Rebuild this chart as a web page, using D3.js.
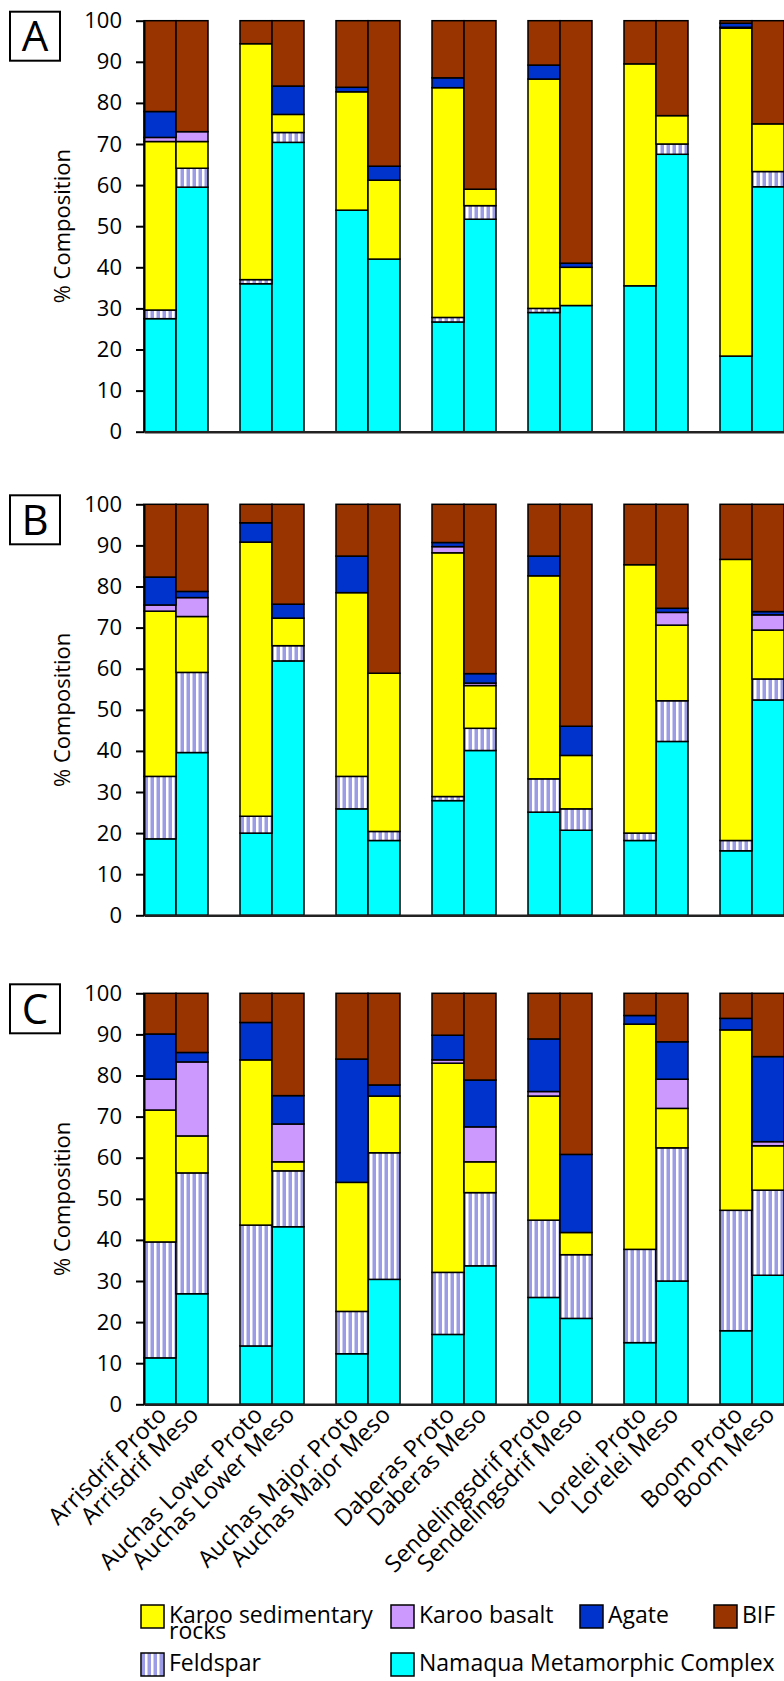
<!DOCTYPE html>
<html>
<head>
<meta charset="utf-8">
<script src="https://cdn.jsdelivr.net/npm/d3@7"></script>
<style>
  body { margin: 0; background: #fff; }
  svg { display: block; }
</style>
</head>
<body>
<script>
/*
  stacked composition bars, three panels (A, B, C)
  order of values in each array: site Proto, site Meso, ...
*/

var sites = ["Arrisdrif", "Auchas Lower", "Auchas Major", "Daberas", "Sendelingsdrif", "Lorelei", "Boom"];
var periods = ["Proto", "Meso"];
var keys = ["namaqua", "feldspar", "karoo", "basalt", "agate", "bif"];
var yTicks = [0, 10, 20, 30, 40, 50, 60, 70, 80, 90, 100];
var panelNames = ["A", "B", "C"];

// panel A
var namaquaA  = [27.5, 59.5, 36.0, 70.4, 53.9, 42.0, 26.7, 51.7, 29.0, 30.7, 35.5, 67.5, 18.4, 59.6];
var feldsparA = [2.1, 4.6, 1.0, 2.4, 0, 0, 1.1, 3.3, 1.0, 0, 0, 2.5, 0, 3.7];
var karooA    = [41.0, 6.5, 57.4, 4.4, 28.8, 19.2, 55.9, 4.0, 55.8, 9.3, 54.0, 6.9, 79.8, 11.6];
var basaltA   = [1.0, 2.4, 0, 0, 0, 0, 0, 0, 0, 0, 0, 0, 0.2, 0];
var agateA    = [6.3, 0, 0, 6.9, 1.1, 3.4, 2.4, 0, 3.4, 1.0, 0, 0, 1.0, 0];
var bifA      = [22.1, 27.0, 5.6, 15.9, 16.2, 35.4, 13.9, 41.0, 10.8, 59.0, 10.5, 23.1, 0.6, 25.1];

// panel B
var namaquaB  = [18.6, 39.6, 20.0, 61.9, 25.9, 18.2, 27.9, 40.1, 25.1, 20.7, 18.2, 42.3, 15.7, 52.4];
var feldsparB = [15.2, 19.5, 4.1, 3.7, 7.9, 2.2, 1.0, 5.4, 8.1, 5.2, 1.8, 9.9, 2.5, 5.1];
var karooB    = [40.2, 13.6, 66.7, 6.7, 44.7, 38.5, 59.3, 10.4, 49.4, 13.0, 65.3, 18.4, 68.4, 11.9];
var basaltB   = [1.5, 4.6, 0, 0, 0, 0, 1.5, 0.6, 0, 0, 0, 3.1, 0, 3.7];
var agateB    = [6.8, 1.5, 4.7, 3.4, 8.9, 0, 1.0, 2.3, 4.8, 7.1, 0, 1.0, 0, 0.8];
var bifB      = [17.7, 21.2, 4.5, 24.3, 12.6, 41.1, 9.3, 41.2, 12.6, 54.0, 14.7, 25.3, 13.4, 26.1];

// panel C
var namaquaC  = [11.3, 26.9, 14.2, 43.2, 12.3, 30.4, 17.0, 33.7, 26.0, 20.9, 15.0, 30.0, 17.9, 31.4];
var feldsparC = [28.2, 29.4, 29.4, 13.6, 10.3, 30.8, 15.1, 17.8, 18.8, 15.5, 22.7, 32.4, 29.3, 20.7];
var karooC    = [32.1, 9.0, 40.2, 2.2, 31.4, 13.8, 50.9, 7.5, 30.2, 5.4, 54.8, 9.6, 43.9, 10.8];
var basaltC   = [7.5, 18.0, 0, 9.2, 0, 0, 0.8, 8.5, 1.1, 0, 0, 7.1, 0, 1.0];
var agateC    = [11.0, 2.3, 9.1, 6.9, 30.0, 2.7, 6.0, 11.4, 12.8, 19.0, 2.1, 9.1, 2.8, 20.7];
var bifC      = [9.9, 14.4, 7.1, 24.9, 16.0, 22.3, 10.2, 21.1, 11.1, 39.2, 5.4, 11.8, 6.1, 15.4];

var panelSeries = [
  [namaquaA, feldsparA, karooA, basaltA, agateA, bifA],
  [namaquaB, feldsparB, karooB, basaltB, agateB, bifB],
  [namaquaC, feldsparC, karooC, basaltC, agateC, bifC]
];

var fills = {
  namaqua: "#00ffff",
  feldspar: "url(#feld)",
  karoo: "#ffff00",
  basalt: "#cc99ff",
  agate: "#0033cc",
  bif: "#993300"
};

var W = 784, H = 1681;
var panelTop = [20.7, 504.3, 993.3];
var plotH = 411;
var slotW = 32;
var fontFam = "'Open Sans', sans-serif";

// bar labels, one blank slot after each pair
var bars = [];
sites.forEach(function(s){ periods.forEach(function(p){ bars.push(s + " " + p); }); });
var slots = [];
sites.forEach(function(s, i){
  slots.push(s + " Proto", s + " Meso", "gap" + i);
});

var x = d3.scaleBand().domain(slots).range([144, 144 + slots.length * slotW]).padding(0);
var y = d3.scaleLinear().domain([0, 100]).range([plotH, 0]);
var stack = d3.stack().keys(keys);

var svg = d3.select("body").append("svg")
  .attr("width", W).attr("height", H)
  .style("font-family", fontFam);

var pat = svg.append("defs").append("pattern")
  .attr("id", "feld")
  .attr("patternUnits", "userSpaceOnUse")
  .attr("width", 6).attr("height", 10);
pat.append("rect").attr("width", 6).attr("height", 10).attr("fill", "#ffffff");
pat.append("rect").attr("x", 0.5).attr("width", 3.5).attr("height", 10).attr("fill", "#9c9ce6");

panelSeries.forEach(function(series, pi){
  var rows = bars.map(function(b, i){
    var r = {slot: b};
    keys.forEach(function(k, ki){ r[k] = series[ki][i]; });
    return r;
  });

  var g = svg.append("g").attr("transform", "translate(0," + panelTop[pi] + ")");

  g.selectAll("g.layer")
    .data(stack(rows))
    .join("g")
    .attr("class", "layer")
    .attr("fill", function(d){ return fills[d.key]; })
    .selectAll("rect")
    .data(function(d){ return d.filter(function(s){ return s[1] - s[0] > 0; }); })
    .join("rect")
    .attr("x", function(d){ return x(d.data.slot); })
    .attr("y", function(d){ return y(d[1]); })
    .attr("width", x.bandwidth())
    .attr("height", function(d){ return y(d[0]) - y(d[1]); })
    .attr("stroke", "#000")
    .attr("stroke-width", 1.5);

  // axes
  var ya = g.append("g")
    .attr("transform", "translate(144,0)")
    .call(d3.axisLeft(y).tickValues(yTicks).tickSize(8).tickSizeOuter(0).tickPadding(14));
  ya.select(".domain").attr("stroke", "#000").attr("stroke-width", 2);
  ya.selectAll(".tick line").attr("stroke", "#000").attr("stroke-width", 2);
  ya.selectAll(".tick text").attr("font-size", 22).attr("font-family", fontFam).attr("fill", "#000");

  var xa = g.append("g")
    .attr("transform", "translate(0," + plotH + ")")
    .call(d3.axisBottom(x).tickSize(0).tickSizeOuter(0).tickFormat(""));
  xa.select(".domain").attr("stroke", "#222").attr("stroke-width", 2.5);

  // panel letter
  g.append("rect")
    .attr("x", 10).attr("y", -9).attr("width", 50).attr("height", 49)
    .attr("fill", "#fff").attr("stroke", "#000").attr("stroke-width", 2);
  g.append("text")
    .attr("x", 35).attr("y", 30.5)
    .attr("text-anchor", "middle")
    .attr("font-size", 42)
    .text(panelNames[pi]);

  g.append("text")
    .attr("transform", "translate(70," + (plotH / 2) + ") rotate(-90)")
    .attr("text-anchor", "middle")
    .attr("font-size", 22)
    .text("% Composition");

  if(pi == 2){
    g.selectAll("text.xl")
      .data(bars)
      .join("text")
      .attr("class", "xl")
      .attr("text-anchor", "end")
      .attr("font-size", 23.5)
      .attr("transform", function(d){
        return "translate(" + (x(d) + x.bandwidth() / 2 + 8) + "," + (plotH + 12) + ") rotate(-45)";
      })
      .text(function(d){ return d; });
  }
});

// legend
var legend = [
  {key: "karoo", lines: ["Karoo sedimentary", "rocks"], x: 141, row: 0},
  {key: "basalt", lines: ["Karoo basalt"], x: 391, row: 0},
  {key: "agate", lines: ["Agate"], x: 580, row: 0},
  {key: "bif", lines: ["BIF"], x: 714, row: 0},
  {key: "feldspar", lines: ["Feldspar"], x: 141, row: 1},
  {key: "namaqua", lines: ["Namaqua Metamorphic Complex"], x: 391, row: 1}
];
var rowY = [1605, 1653];

var li = svg.append("g").selectAll("g")
  .data(legend)
  .join("g")
  .attr("transform", function(d){ return "translate(" + d.x + "," + rowY[d.row] + ")"; });
li.append("rect")
  .attr("width", 23).attr("height", 23)
  .attr("fill", function(d){ return fills[d.key]; })
  .attr("stroke", "#000").attr("stroke-width", 1.5);
li.append("text")
  .attr("x", 28).attr("y", 18)
  .attr("font-size", 23)
  .selectAll("tspan")
  .data(function(d){ return d.lines; })
  .join("tspan")
  .attr("x", 28)
  .attr("dy", function(d, i){ return i == 0 ? 0 : 16; })
  .text(function(d){ return d; });
</script>
</body>
</html>
